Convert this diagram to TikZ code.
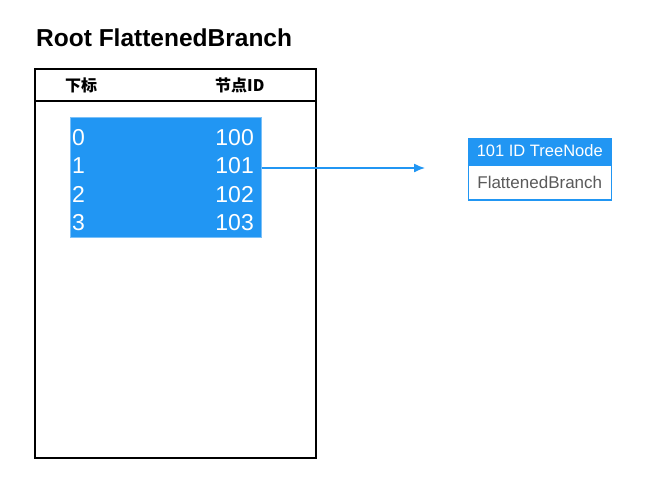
\documentclass[tikz,border=0pt]{standalone}
\usepackage{fontspec}
\usetikzlibrary{arrows.meta}
\setmainfont{Liberation Sans}
\newfontfamily\cjk{Noto Sans CJK SC}
\definecolor{nodeblue}{RGB}{33,150,243}
\definecolor{textgray}{RGB}{90,90,90}
\begin{document}
\begin{tikzpicture}[
		x=1pt, y=-1pt,
		% Stilovi za tablicu i cvor
		frame/.style={draw, line width=2pt, minimum width=281pt, minimum height=389pt, anchor=north west, inner sep=0pt},
		headtext/.style={font=\cjk\bfseries\fontsize{16}{18}\selectfont, inner sep=0pt},
		idbox/.style={fill=nodeblue, draw=nodeblue!60, line width=0.5pt, minimum width=191pt, minimum height=120pt, anchor=north west, inner sep=0pt},
		digit/.style={text=white, font=\fontsize{23}{25}\selectfont, inner sep=0pt},
		treehead/.style={fill=nodeblue, draw=nodeblue, line width=1.5pt, text=white, minimum width=143pt, minimum height=25pt, anchor=north west, inner sep=0pt, font=\fontsize{16.5}{18}\selectfont},
		treebody/.style={fill=white, draw=nodeblue, line width=1.5pt, text=textgray, minimum width=143pt, minimum height=35pt, anchor=north west, inner sep=0pt, font=\fontsize{17}{19}\selectfont},
		flow/.style={draw=nodeblue, line width=1.3pt, -{Latex[length=11pt, width=9pt]}},
		]
		\useasboundingbox (0,0) rectangle (650,493);
		\node[anchor=base west, inner sep=0pt, font=\bfseries\fontsize{24.5}{28}\selectfont] (title) at (36,46) {Root FlattenedBranch};
		% tablica
		\node[frame] (tbl) at (34,68) {};
		\draw[line width=1.5pt] (tbl.west |- 0,101) -- (tbl.east |- 0,101);
		\node[headtext, anchor=base west] (hidx) at (65,91) {下标};
		\node[headtext, anchor=base west] (hid) at (215,91) {节点ID};
		\node[idbox] (ids) at (70,117) {};
		\foreach \i/\v in {0/100,1/101,2/102,3/103} {
			\node[digit, anchor=base west] (idx\i) at (72,145+28.5*\i) {\i};
			\node[digit, anchor=base east] (val\i) at (254,145+28.5*\i) {\v};
		}
		% cvor
		\node[treehead] (head) at (467.5,137.5) {101 ID TreeNode};
		\node[treebody] (body) at (head.south west) {FlattenedBranch};
		\coordinate (tip) at (425,168);
		\draw[flow] (ids.east |- tip) -- (tip);
	\end{tikzpicture}
\end{document}
